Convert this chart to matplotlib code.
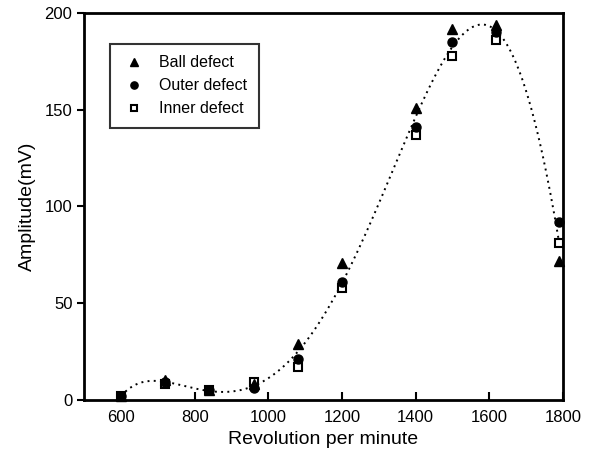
import numpy as np
import matplotlib
matplotlib.use("Agg")
from matplotlib import pyplot as plt

plt.rcParams['font.family'] = ['Liberation Sans', 'DejaVu Sans']

# revolution per minute and amplitudes (mV)
rpm = [600, 720, 840, 960, 1080, 1200, 1400, 1500, 1620, 1790]
ball = [2, 10, 5, 8, 29, 71, 151, 192, 194, 72]
outer = [2, 9, 5, 6, 21, 61, 141, 185, 190, 92]
inner = [2, 8, 5, 9, 17, 58, 137, 178, 186, 81]

x_ticks = [600, 800, 1000, 1200, 1400, 1600, 1800]
y_ticks = [0, 50, 100, 150, 200]

fig = plt.figure(figsize=(5.93, 4.66), dpi=100)
ax = fig.add_axes([0.142, 0.142, 0.807, 0.830])

# dotted trend line: polynomial fit through the mean of the three series
mean = (np.array(ball) + np.array(outer) + np.array(inner)) / 3
coef = np.polyfit(rpm, mean, 7)
xs = np.linspace(600, 1790, 300)
ax.plot(xs, np.polyval(coef, xs), color='black', linestyle=(0, (1, 2.2)), linewidth=1.4)

ax.plot(rpm, inner, linestyle='none', marker='s', markerfacecolor='white', markeredgecolor='black',
        markeredgewidth=1.5, markersize=6, label='Inner defect', clip_on=False, zorder=3)
ax.plot(rpm, outer, linestyle='none', marker='o', color='black', markersize=6.5,
        label='Outer defect', clip_on=False, zorder=4)
ax.plot(rpm, ball, linestyle='none', marker='^', color='black', markersize=7.5,
        label='Ball defect', clip_on=False, zorder=5)

ax.set_xlim(500, 1800)
ax.set_ylim(0, 200)
ax.set_xticks(x_ticks)
ax.set_yticks(y_ticks)
ax.tick_params(axis='x', direction='in', labelsize=12, length=6, width=1.5, pad=7)
ax.tick_params(axis='y', direction='out', labelsize=12, length=5, width=1.5)
for s in ax.spines.values():
    s.set_linewidth(2)

ax.set_xlabel('Revolution per minute', fontsize=14, labelpad=5)
ax.set_ylabel('Amplitude(mV)', fontsize=14, labelpad=6)

handles, labels = ax.get_legend_handles_labels()
leg = ax.legend(handles[::-1], labels[::-1], loc='upper left', bbox_to_anchor=(0.037, 0.94),
                fontsize=11.5, frameon=True, fancybox=False, edgecolor='black',
                handletextpad=0.8, borderpad=0.7, labelspacing=0.5, handlelength=1.6,
                markerscale=0.8)
leg.get_frame().set_linewidth(1.5)

fig.savefig('out.png', dpi=100)
